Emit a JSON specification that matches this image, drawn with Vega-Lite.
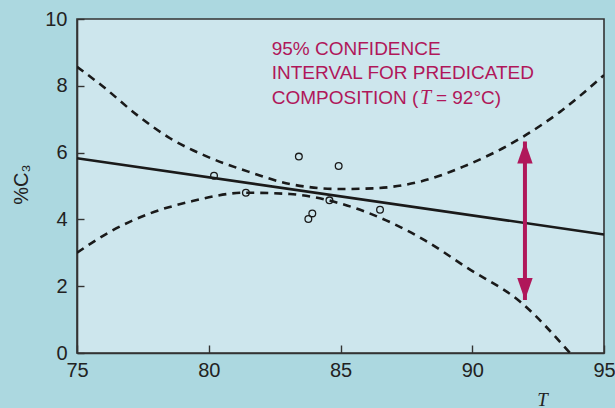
{
  "$schema": "https://vega.github.io/schema/vega-lite/v6.json",
  "width": 527,
  "height": 334,
  "autosize": "none",
  "padding": {"left": 77, "top": 19, "right": 11, "bottom": 55},
  "background": "#acd8e0",
  "view": {"fill": "#cde6ed", "stroke": "#333333", "strokeWidth": 1.6},
  "config": {
    "font": "Liberation Sans",
    "axis": {
      "labelFont": "Liberation Sans",
      "labelFontSize": 20,
      "labelColor": "#222222",
      "domainColor": "#333333",
      "domainWidth": 1.6,
      "tickColor": "#333333",
      "tickWidth": 1.4,
      "grid": false
    }
  },
  "datasets": {
    "bands": [
      {"band": "upper", "T": 75, "v": 8.57},
      {"band": "upper", "T": 76, "v": 7.97},
      {"band": "upper", "T": 77.27, "v": 7.13},
      {"band": "upper", "T": 78.53, "v": 6.43},
      {"band": "upper", "T": 79.79, "v": 5.93},
      {"band": "upper", "T": 81.5, "v": 5.43},
      {"band": "upper", "T": 83.08, "v": 5.06},
      {"band": "upper", "T": 84.98, "v": 4.91},
      {"band": "upper", "T": 86.24, "v": 4.93},
      {"band": "upper", "T": 88.02, "v": 5.13},
      {"band": "upper", "T": 89.66, "v": 5.58},
      {"band": "upper", "T": 91.94, "v": 6.48},
      {"band": "upper", "T": 93.33, "v": 7.22},
      {"band": "upper", "T": 95, "v": 8.32},
      {"band": "lower", "T": 75, "v": 3.0},
      {"band": "lower", "T": 76.25, "v": 3.63},
      {"band": "lower", "T": 77.77, "v": 4.18},
      {"band": "lower", "T": 79.29, "v": 4.53},
      {"band": "lower", "T": 81.4, "v": 4.8},
      {"band": "lower", "T": 83.08, "v": 4.76},
      {"band": "lower", "T": 84.98, "v": 4.48},
      {"band": "lower", "T": 86.93, "v": 3.9},
      {"band": "lower", "T": 88.19, "v": 3.38},
      {"band": "lower", "T": 89.83, "v": 2.54},
      {"band": "lower", "T": 91.81, "v": 1.54},
      {"band": "lower", "T": 93.71, "v": 0}
    ],
    "fit": [
      {"T": 75, "v": 5.83},
      {"T": 95, "v": 3.55}
    ],
    "obs": [
      {"T": 80.2, "v": 5.31},
      {"T": 81.41, "v": 4.8},
      {"T": 83.42, "v": 5.88},
      {"T": 84.93, "v": 5.6},
      {"T": 83.93, "v": 4.18},
      {"T": 83.78, "v": 4.01},
      {"T": 84.58, "v": 4.57},
      {"T": 86.5, "v": 4.29}
    ],
    "interval": [
      {"T": 92, "lo": 1.59, "hi": 6.33}
    ],
    "note": [
      {"T": 82.39, "v": 8.92, "label": "95% CONFIDENCE"},
      {"T": 82.39, "v": 8.19, "label": "INTERVAL FOR PREDICATED"},
      {"T": 82.39, "v": 7.45, "label": "COMPOSITION ("}
    ],
    "noteT": [
      {"T": 88.02, "v": 7.45, "label": "T"}
    ],
    "noteEnd": [
      {"T": 88.62, "v": 7.45, "label": " = 92°C)"}
    ]
  },
  "encoding": {
    "x": {
      "field": "T",
      "type": "quantitative",
      "scale": {"domain": [75, 95], "nice": false, "zero": false},
      "axis": {
        "title": "T",
        "titleFont": "Liberation Serif",
        "titleFontStyle": "italic",
        "titleFontWeight": "normal",
        "titleFontSize": 19,
        "titleColor": "#222222",
        "titleAlign": "center",
        "titleBaseline": "top",
        "titleX": 465,
        "titleY": 37,
        "values": [75, 80, 85, 90, 95],
        "tickSize": -8,
        "labelPadding": 15,
        "labelFlush": false
      }
    },
    "y": {
      "field": "v",
      "type": "quantitative",
      "scale": {"domain": [0, 10], "nice": false},
      "axis": {
        "title": "%C₃",
        "titleFont": "Liberation Sans",
        "titleFontWeight": "normal",
        "titleFontSize": 20,
        "titleColor": "#222222",
        "titleAngle": 270,
        "titleAlign": "center",
        "titleBaseline": "alphabetic",
        "titleX": -50,
        "titleY": 165,
        "values": [0, 2, 4, 6, 8, 10],
        "tickSize": -7,
        "labelPadding": 17
      }
    }
  },
  "layer": [
    {
      "data": {"name": "bands"},
      "mark": {"type": "line", "color": "#1a1a1a", "strokeWidth": 2.6, "strokeDash": [8, 6], "interpolate": "monotone", "clip": true},
      "encoding": {"detail": {"field": "band"}}
    },
    {
      "data": {"name": "fit"},
      "mark": {"type": "line", "color": "#1a1a1a", "strokeWidth": 2.6},
      "encoding": {}
    },
    {
      "data": {"name": "obs"},
      "mark": {"type": "point", "shape": "circle", "filled": false, "stroke": "#1a1a1a", "strokeWidth": 1.3, "size": 45, "opacity": 1}
    },
    {
      "data": {"name": "interval"},
      "mark": {"type": "rule", "color": "#b0175a", "strokeWidth": 4},
      "encoding": {"y": {"field": "lo", "type": "quantitative"}, "y2": {"field": "hi"}}
    },
    {
      "data": {"name": "interval"},
      "mark": {"type": "point", "shape": "M0,0L-0.7,2L0.7,2Z", "filled": true, "color": "#b0175a", "size": 484, "opacity": 1},
      "encoding": {"y": {"field": "hi", "type": "quantitative"}}
    },
    {
      "data": {"name": "interval"},
      "mark": {"type": "point", "shape": "M0,0L-0.7,-2L0.7,-2Z", "filled": true, "color": "#b0175a", "size": 484, "opacity": 1},
      "encoding": {"y": {"field": "lo", "type": "quantitative"}}
    },
    {
      "data": {"name": "note"},
      "mark": {"type": "text", "align": "left", "baseline": "alphabetic", "font": "Liberation Sans", "fontSize": 19, "color": "#b0175a"},
      "encoding": {"text": {"field": "label"}}
    },
    {
      "data": {"name": "noteT"},
      "mark": {"type": "text", "align": "left", "baseline": "alphabetic", "font": "Liberation Serif", "fontStyle": "italic", "fontSize": 20, "color": "#b0175a"},
      "encoding": {"text": {"field": "label"}}
    },
    {
      "data": {"name": "noteEnd"},
      "mark": {"type": "text", "align": "left", "baseline": "alphabetic", "font": "Liberation Sans", "fontSize": 19, "color": "#b0175a"},
      "encoding": {"text": {"field": "label"}}
    }
  ]
}
